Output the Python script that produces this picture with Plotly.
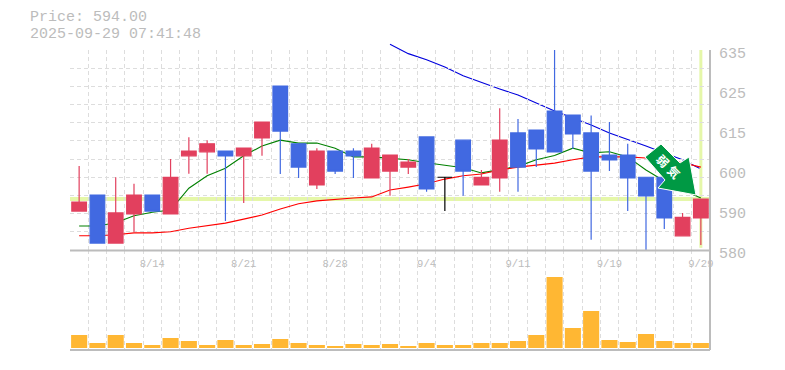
import plotly.graph_objects as go

dates = ["8/7","8/8","8/12","8/13","8/14","8/15","8/18","8/19","8/20","8/21","8/22","8/25",
         "8/26","8/27","8/28","8/29","9/1","9/2","9/3","9/4","9/5","9/8","9/9","9/10","9/11",
         "9/12","9/16","9/17","9/18","9/19","9/22","9/24","9/25","9/26","9/29"]
labelled = ["8/14","8/21","8/28","9/4","9/11","9/19","9/29"]

# body bottom / top
opens = [590.7,595.1,581.9,589.9,595.1,589.9,605.9,607.0,607.2,605.9,610.8,625.1,
         609.2,597.9,607.2,607.2,599.8,601.7,602.8,611.1,600.0,610.2,597.9,599.8,612.2,
         613.0,618.2,617.1,612.2,606.1,606.1,600.0,600.0,583.9,588.8]
closes = [593.2,581.9,590.2,595.1,590.7,600.0,607.2,609.2,605.9,608.0,615.2,612.7,
          602.8,607.2,601.7,605.9,608.0,606.1,604.2,596.8,600.0,601.7,600.0,610.2,602.8,
          607.8,607.0,611.9,601.7,604.8,599.8,594.9,588.8,589.0,594.0]
highs = [603.1,595.1,600.0,598.2,595.1,605.0,611.0,610.2,607.2,608.0,615.2,625.1,
         609.2,608.0,607.2,608.0,609.2,606.1,605.0,611.1,600.0,610.2,602.0,619.0,616.0,
         613.0,640.0,617.1,617.0,615.2,609.2,600.0,600.0,590.2,594.0]
lows = [590.7,581.9,581.9,585.0,590.7,589.9,601.0,601.0,588.0,592.9,605.9,600.9,
        599.8,596.8,600.9,599.8,599.8,594.9,600.9,596.0,590.7,594.9,597.9,596.0,596.0,
        602.8,607.0,607.8,582.8,601.7,590.7,579.0,585.8,583.9,581.4]

ma_short = [586.6,586.6,587.5,589.4,590.4,591.0,597.0,600.4,602.5,605.9,608.6,610.2,
            609.4,609.4,608.0,605.6,605.6,605.3,604.8,604.0,603.4,602.6,601.2,602.0,603.0,
            604.8,606.0,608.0,606.7,607.0,605.6,602.0,599.0,596.5,594.3]
ma_mid = [583.9,583.9,584.2,584.7,584.7,585.0,586.0,586.6,587.4,588.5,589.6,591.3,
          592.7,593.5,594.0,594.3,594.6,596.5,597.3,598.2,599.5,600.4,600.9,602.0,602.8,
          603.3,603.9,604.8,605.6,605.6,605.6,605.3,604.8,604.0,602.8]
ma_long = [None]*17 + [636.6,634.0,632.3,630.3,627.9,626.0,624.3,622.6,620.4,618.2,616.3,
                       614.4,612.2,610.5,608.6,606.7,604.8,602.3]

volumes = [13,5,13,5,3,10,7,3,8,3,4,9,5,3,2,4,3,4,2,5,3,3,5,5,7,13,71,20,37,8,6,14,7,5,5]

price_tick_vals = [580,591,602,613,624,635]
price_tick_text = ["580","590","600","615","625","635"]
last_price = 594.0
title_lines = ["Price: 594.00", "2025-09-29 07:41:48"]
badge_text = ["弱","気"]

GREY = "#bcbcbc"
GRID = "#dddddd"
RED = "#e2405e"
BLUE = "#4169e1"
HILITE = "#e5f7a9"
MONO = "Liberation Mono, monospace"

L, R, T, B = 70, 710, 40, 350   # T: top of the figure's plotting band (long MA rises above the grid)
GRID_TOP, SPLIT = 50, 250
def px(x): return (x - L) / (R - L)
def py(y): return (B - y) / (B - T)
PRICE_TOP = 580 + (SPLIT - T) * 55 / (SPLIT - GRID_TOP)

xs = list(range(len(dates)))
up = [i for i in xs if closes[i] > opens[i]]
dn = [i for i in xs if closes[i] < opens[i]]
fl = [i for i in xs if closes[i] == opens[i]]

fig = go.Figure()
fig.add_trace(go.Scatter(x=xs, y=ma_long, mode="lines", line=dict(color="#0000dd", width=1.1),
                         xaxis="x", yaxis="y", showlegend=False))
for vals, col in ((ma_short, "#008000"), (ma_mid, "#ff0000")):
    fig.add_trace(go.Scatter(x=xs, y=vals, mode="lines", line=dict(color=col, width=1.1),
                             xaxis="x3", yaxis="y3", showlegend=False))

def candles(idx, col):
    return go.Candlestick(
        x=idx, open=[opens[i] for i in idx], high=[highs[i] for i in idx],
        low=[lows[i] for i in idx], close=[closes[i] for i in idx],
        increasing=dict(line=dict(color=col, width=1.2), fillcolor=col),
        decreasing=dict(line=dict(color=col, width=1.2), fillcolor=col),
        whiskerwidth=0, xaxis="x3", yaxis="y4", showlegend=False)
fig.add_trace(candles(up, RED))
fig.add_trace(candles(dn, BLUE))
fig.add_trace(candles(fl, "#000000"))
fig.add_trace(go.Bar(x=xs, y=volumes, marker=dict(color="#ffb733", line=dict(width=0)), width=0.88,
                     xaxis="x2", yaxis="y2", showlegend=False))

minor_x = dict(tick0=-0.5, dtick=1, showgrid=True, gridcolor=GRID, griddash="4px,3px",
               gridwidth=1, ticklen=0)
tick_idx = [dates.index(d) for d in labelled]
common_x = dict(range=[-0.5, 34.5], domain=[0, 1], showgrid=False, zeroline=False,
                showline=False, rangeslider=dict(visible=False), automargin=False)

shapes = [
    dict(type="line", xref="paper", yref="y3", x0=0, x1=1, y0=last_price, y1=last_price,
         line=dict(color=HILITE, width=4), layer="below"),
    dict(type="line", xref="x3", yref="y3", x0=34, x1=34, y0=580.6, y1=635,
         line=dict(color=HILITE, width=3), layer="below"),
    dict(type="line", xref="paper", yref="paper", x0=0, x1=1, y0=py(250.5), y1=py(250.5),
         line=dict(color=GREY, width=2), layer="above"),
    dict(type="line", xref="paper", yref="paper", x0=0, x1=1, y0=py(350), y1=py(350),
         line=dict(color=GREY, width=2), layer="above"),
    dict(type="line", xref="paper", yref="paper", x0=1, x1=1, y0=py(50), y1=py(350),
         line=dict(color=GREY, width=2), layer="above"),
]
arrow_pts = [(645,157),(661,144),(680,163),(689,157),(696,195),(658,188),(665,180)]
path = "M " + " L ".join(f"{px(a):.5f},{py(b):.5f}" for a, b in arrow_pts) + " Z"
shapes.append(dict(type="path", xref="paper", yref="paper", path=path, fillcolor="#009944",
                   line=dict(color="#ffffff", width=1), layer="above"))
for ch, (a, b) in zip(badge_text, [(662,162),(673,173)]):
    shapes.append(dict(type="rect", xref="paper", yref="paper", x0=px(a-6), x1=px(a+6),
                       y0=py(b+6), y1=py(b-6), line=dict(width=0), fillcolor="rgba(0,0,0,0)",
                       layer="above",
                       label=dict(text=f"<b>{ch}</b>", textangle=45, textposition="middle center",
                                  font=dict(family="Noto Sans CJK JP", size=12, color="#ffffff"))))

annotations = []
for line, yc in zip(title_lines, (17.5, 34.5)):
    annotations.append(dict(xref="paper", yref="paper", x=px(28), y=py(yc), xanchor="left",
                            yanchor="middle", text=line, showarrow=False, height=15,
                            font=dict(family=MONO, size=15, color=GREY)))

fig.update_layout(
    width=785, height=370, autosize=False,
    margin=dict(l=L, r=785-R, t=T, b=370-B, pad=0, autoexpand=False),
    paper_bgcolor="#ffffff", plot_bgcolor="rgba(0,0,0,0)",
    boxgap=0.2, boxgroupgap=0, bargap=0.12, showlegend=False,
    xaxis=dict(anchor="y", visible=False, **common_x),
    yaxis=dict(domain=[py(SPLIT), 1], range=[580, PRICE_TOP], anchor="x", visible=False),
    xaxis2=dict(anchor="y2", showticklabels=False, ticks="", minor=minor_x, **common_x),
    yaxis2=dict(domain=[0, py(SPLIT)], range=[-2, 98], anchor="x2", showgrid=False, zeroline=False,
                showline=False, showticklabels=False, ticks=""),
    xaxis3=dict(anchor="y3", tickmode="array", tickvals=tick_idx, ticktext=labelled,
                ticks="", ticklabelstandoff=5, minor=minor_x,
                tickfont=dict(family=MONO, size=10.5, color=GREY), **common_x),
    yaxis3=dict(domain=[py(SPLIT), py(GRID_TOP)], range=[580, 635], side="right", anchor="x3",
                showgrid=False, zeroline=False, showline=False, tickmode="array",
                tickvals=price_tick_vals, ticktext=price_tick_text,
                ticks="", ticklabelstandoff=8,
                tickfont=dict(family=MONO, size=15, color=GREY), ticklabelshift=3,
                minor=dict(tick0=580, dtick=5, showgrid=True, gridcolor=GRID, griddash="4px,3px",
                           gridwidth=1, ticklen=0)),
    yaxis4=dict(overlaying="y3", range=[580, 635], side="right", anchor="x3", showgrid=False,
                zeroline=False, showline=False, showticklabels=False, ticks=""),
    shapes=shapes, annotations=annotations,
)
fig.write_html("out.html", config=dict(displayModeBar=False),
               post_script="document.body.style.margin='0';")
